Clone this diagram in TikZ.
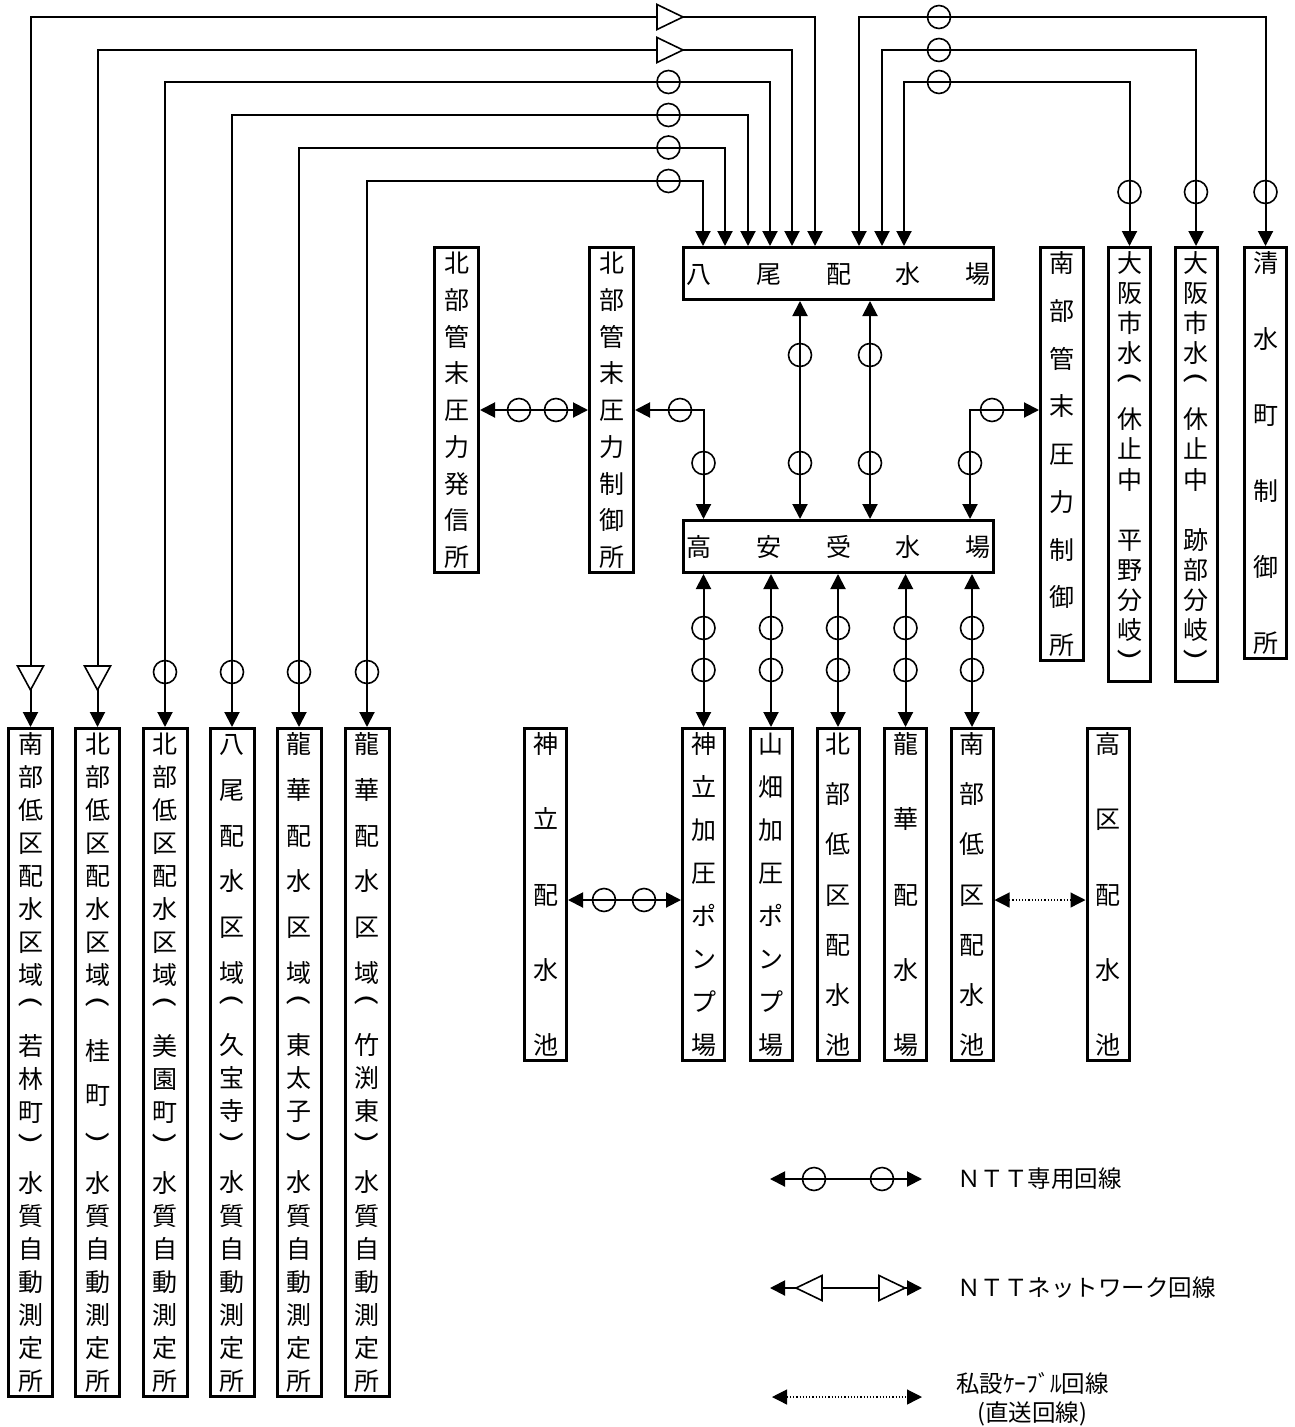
\documentclass[tikz,border=0pt]{standalone}
\usepackage{fontspec}
\usepackage{graphicx}
\setmainfont{Noto Sans CJK JP}
\usetikzlibrary{arrows.meta}
\makeatletter
\newcommand\ci[1]{\hbox to 1em{\hss\vrule height .88em depth .12em width 0pt\relax#1\hss}}
\newcommand\gp[1][1]{\vskip 0pt plus #1fill\relax}
\newcommand\vitems[2][1]{\def\vs@w{#1}\vs@first#2\relax}
\def\vs@first#1{\ci{#1}\vs@next}
\def\vs@next#1{\ifx\relax#1\else\vskip 0pt plus \vs@w fill\relax\ci{#1}\expandafter\vs@next\fi}
\newcommand\vst[2]{\vbox to #1{\offinterlineskip#2\kern0pt}}
\newcommand\vparen[1]{\setbox0=\hbox{\scalebox{0.92}[1.5]{\rotatebox[origin=c]{-90}{#1}}}\raisebox{\dimexpr .38em-(\ht0-\dp0)/2\relax}{\box0}}
\makeatother
\newcommand\LP{\vparen{(}}
\newcommand\RP{\vparen{)}}
\newcommand\triR[2]{\filldraw[tri] (#1,#2) ++(0,-12.5) -- ++(26,12.5) -- ++(-26,12.5) -- cycle;}
\newcommand\triL[2]{\filldraw[tri] (#1,#2) ++(0,-12.5) -- ++(-26,12.5) -- ++(26,12.5) -- cycle;}
\newcommand\triD[2]{\filldraw[tri] (#1,#2) ++(-13,0) -- ++(26,0) -- ++(-13,24) -- cycle;}
\newcommand\mc[2]{\draw[mk] (#1,#2) circle[radius=11.5pt];}
\tikzset{
  >={Triangle[length=15pt,width=15pt]},
  bx/.style={draw, line width=3pt, inner sep=0pt, font=\fontsize{25pt}{25pt}\selectfont},
  conn/.style={line width=2pt, <->},
  mk/.style={line width=1.6pt},
  tri/.style={line width=1.6pt, fill=white},
  dots/.style={line width=1.2pt, dash pattern=on 1.2pt off 2pt},
  lg/.style={font=\fontsize{23.5pt}{23.5pt}\selectfont, inner sep=0pt, anchor=west},
}
\begin{document}
\begin{tikzpicture}[x=1pt,y=-1pt]
\useasboundingbox (0,0) rectangle (1294,1427);
% ---------- boxes: top row
\node[bx,minimum width=44pt,minimum height=325pt] (hs) at (456.5,410) {\vst{319pt}{\vitems{北部管末圧力発信所}}};
\node[bx,minimum width=44pt,minimum height=325pt] (hc) at (611.5,410) {\vst{319pt}{\vitems{北部管末圧力制御所}}};
\node[bx,minimum width=310pt,minimum height=52pt] (yao) at (838.5,273.5) {\hbox to 304pt{\vrule height .88em depth .12em width 0pt 八\hfill 尾\hfill 配\hfill 水\hfill 場}};
\node[bx,minimum width=310pt,minimum height=52pt] (tak) at (838.5,546.5) {\hbox to 304pt{\vrule height .88em depth .12em width 0pt 高\hfill 安\hfill 受\hfill 水\hfill 場}};
\node[bx,minimum width=43pt,minimum height=413pt] (nc) at (1062,454) {\vst{407pt}{\vitems{南部管末圧力制御所}}};
\node[bx,minimum width=42pt,minimum height=434pt] (ohi) at (1129.5,464.5) {\vst{428pt}{\vitems{大阪市水\LP 休止中　平野分岐\RP}}};
\node[bx,minimum width=42pt,minimum height=434pt] (oat) at (1196,464.5) {\vst{428pt}{\vitems{大阪市水\LP 休止中　跡部分岐\RP}}};
\node[bx,minimum width=42pt,minimum height=411pt] (shi) at (1265.5,453) {\vst{405pt}{\vitems{清水町制御所}}};
% ---------- boxes: middle lower row
\node[bx,minimum width=42pt,minimum height=332pt] (kp) at (545.5,894.5) {\vst{326pt}{\vitems{神立配水池}}};
\node[bx,minimum width=42pt,minimum height=332pt] (kpp) at (703.5,894.5) {\vst{326pt}{\vitems{神立加圧ポンプ場}}};
\node[bx,minimum width=42pt,minimum height=332pt] (yp) at (771,894.5) {\vst{326pt}{\vitems{山畑加圧ポンプ場}}};
\node[bx,minimum width=42pt,minimum height=332pt] (hp) at (838,894.5) {\vst{326pt}{\vitems{北部低区配水池}}};
\node[bx,minimum width=42pt,minimum height=332pt] (rp) at (905.5,894.5) {\vst{326pt}{\vitems{龍華配水場}}};
\node[bx,minimum width=42pt,minimum height=332pt] (np) at (972,894.5) {\vst{326pt}{\vitems{南部低区配水池}}};
\node[bx,minimum width=42pt,minimum height=332pt] (kk) at (1108,894.5) {\vst{326pt}{\vitems{高区配水池}}};
% ---------- boxes: left bottom row
\node[bx,minimum width=44pt,minimum height=668pt] (w1) at (30.5,1062.5) {\vst{662pt}{\vitems{南部低区配水区域\LP 若林町\RP 水質自動測定所}}};
\node[bx,minimum width=44pt,minimum height=668pt] (w2) at (97.5,1062.5) {\vst{662pt}{\vitems{北部低区配水区域\LP}\gp[1.58]\ci{桂}\gp[2.34]\ci{町}\gp[2.99]\vitems{\RP 水質自動測定所}}};
\node[bx,minimum width=44pt,minimum height=668pt] (w3) at (165,1062.5) {\vst{662pt}{\vitems{北部低区配水区域\LP 美園町\RP 水質自動測定所}}};
\node[bx,minimum width=44pt,minimum height=668pt] (w4) at (232,1062.5) {\vst{662pt}{\vitems[2.57]{八尾配水区域}\gp\vitems{\LP 久宝寺\RP 水質自動測定所}}};
\node[bx,minimum width=44pt,minimum height=668pt] (w5) at (299,1062.5) {\vst{662pt}{\vitems[2.57]{龍華配水区域}\gp\vitems{\LP 東太子\RP 水質自動測定所}}};
\node[bx,minimum width=44pt,minimum height=668pt] (w6) at (367,1062.5) {\vst{662pt}{\vitems[2.57]{龍華配水区域}\gp\vitems{\LP 竹渕東\RP 水質自動測定所}}};
% ---------- connectors: top left group
\draw[conn] (w1.north) |- (815,17) -- (815,0 |- yao.north);
\draw[conn] (w2.north) |- (792,50) -- (792,0 |- yao.north);
\draw[conn] (w3.north) |- (770,82) -- (770,0 |- yao.north);
\draw[conn] (w4.north) |- (748,115) -- (748,0 |- yao.north);
\draw[conn] (w5.north) |- (725,147.5) -- (725,0 |- yao.north);
\draw[conn] (w6.north) |- (703,181) -- (703,0 |- yao.north);
% ---------- connectors: top right group
\draw[conn] (859,0 |- yao.north) |- (shi.north |- 0,17) -- (shi.north);
\draw[conn] (882,0 |- yao.north) |- (oat.north |- 0,50) -- (oat.north);
\draw[conn] (904,0 |- yao.north) |- (ohi.north |- 0,82) -- (ohi.north);
% ---------- connectors: middle
\draw[conn] (hs.east) -- (hc.west);
\draw[conn] (hc.east) -| (703.5,0 |- tak.north);
\draw[conn] (800,0 |- yao.south) -- (800,0 |- tak.north);
\draw[conn] (870,0 |- yao.south) -- (870,0 |- tak.north);
\draw[conn] (970,0 |- tak.north) |- (nc.west |- 0,410);
% ---------- connectors: below 高安
\draw[conn] (kpp.north |- tak.south) -- (kpp.north);
\draw[conn] (yp.north |- tak.south) -- (yp.north);
\draw[conn] (hp.north |- tak.south) -- (hp.north);
\draw[conn] (rp.north |- tak.south) -- (rp.north);
\draw[conn] (np.north |- tak.south) -- (np.north);
\draw[conn] (kp.east |- 0,900) -- (kpp.west |- 0,900);
\draw[conn,dots] (np.east |- 0,900) -- (kk.west |- 0,900);
% ---------- markers
\triR{657}{17} \triR{657}{50}
\mc{668.5}{82} \mc{668.5}{115} \mc{668.5}{147.5} \mc{668.5}{181}
\mc{939}{17} \mc{939}{50} \mc{939}{82}
\mc{1129.5}{192} \mc{1196}{192} \mc{1265.5}{192}
\triD{30.5}{666} \triD{97.5}{666}
\mc{165}{672} \mc{232}{672} \mc{299}{672} \mc{367}{672}
\mc{519}{410} \mc{556}{410}
\mc{680}{410} \mc{703.5}{463}
\mc{800}{355} \mc{800}{463} \mc{870}{355} \mc{870}{463}
\mc{992}{410} \mc{970}{463}
\foreach \xx in {703.5,771,838,905.5,972} {\mc{\xx}{628} \mc{\xx}{670}}
\mc{604}{900} \mc{644}{900}
% ---------- legend
\coordinate (l1a) at (770,1179); \coordinate (l1b) at (922,1179);
\draw[conn] (l1a) -- (l1b);
\mc{814}{1179} \mc{882}{1179}
\node[lg] (t1) at (957,1179) {ＮＴＴ専用回線};
\coordinate (l2a) at (770,1288); \coordinate (l2b) at (922,1288);
\draw[conn] (l2a) -- (l2b);
\triL{822}{1288} \triR{879}{1288}
\node[lg] (t2) at (957,1288) {ＮＴＴネットワーク回線};
\coordinate (l3a) at (772,1397); \coordinate (l3b) at (922,1397);
\draw[conn,dots] (l3a) -- (l3b);
\node[lg] (t3) at (956,1383) {私設ｹｰﾌﾞﾙ回線};
\node[lg,anchor=center] (t4) at (1032,1414) {(直送回線)};
\end{tikzpicture}
\end{document}
